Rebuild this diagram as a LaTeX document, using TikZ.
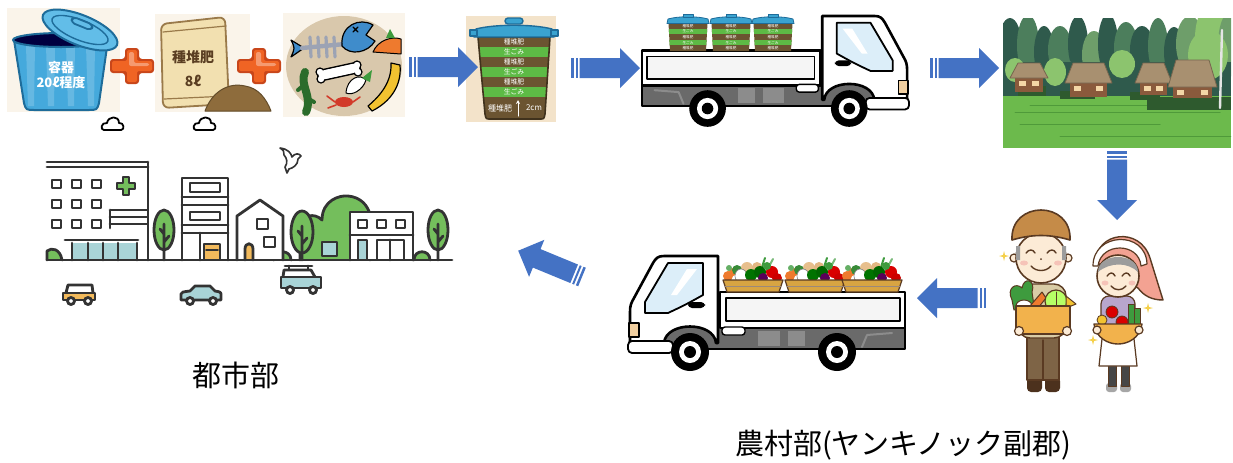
\documentclass[tikz,border=0pt]{standalone}
\usepackage{fontspec}
\newfontfamily\jp{Noto Sans CJK JP}
\usetikzlibrary{calc,arrows.meta}

\definecolor{arrowblue}{HTML}{4472C4}
\definecolor{plusorange}{HTML}{F06424}
\definecolor{plusdark}{HTML}{C8461A}
\definecolor{bucketblue}{HTML}{45A9DC}
\definecolor{bucketdark}{HTML}{1E6C9A}
\definecolor{lidblue}{HTML}{62BDE8}
\definecolor{paper}{HTML}{FAF4EA}
\definecolor{bagbeige}{HTML}{F2E0B0}
\definecolor{bagline}{HTML}{9A7A4A}
\definecolor{bagtext}{HTML}{5A3E22}
\definecolor{soil}{HTML}{8E6C3C}
\definecolor{garbbeige}{HTML}{D9C8AC}
\definecolor{fishblue}{HTML}{3F8CCB}
\definecolor{bonegray}{HTML}{9CA3B4}
\definecolor{carrot}{HTML}{EE7A2E}
\definecolor{leafgreen}{HTML}{3E9B3E}
\definecolor{banana}{HTML}{F2C230}
\definecolor{crabred}{HTML}{D23A2A}
\definecolor{layerbrown}{HTML}{6B5431}
\definecolor{layergreen}{HTML}{5DBA45}
\definecolor{potbg}{HTML}{F3E3CA}
\definecolor{lidteal}{HTML}{3AA3D0}
\definecolor{chassis}{HTML}{6A6A6A}
\definecolor{panel}{HTML}{8C8C8C}
\definecolor{glass}{HTML}{DCEEF9}
\definecolor{lamp}{HTML}{F1CFA0}
\definecolor{basket}{HTML}{D8A442}
\definecolor{cityline}{HTML}{333333}
\definecolor{citygreen}{HTML}{74BE5C}
\definecolor{cityglass}{HTML}{A9D4D7}
\definecolor{cityorange}{HTML}{F2BA5C}
\definecolor{field}{HTML}{6CBA4C}
\definecolor{fielddark}{HTML}{4F9A3A}
\definecolor{forestA}{HTML}{2F5A4C}
\definecolor{forestB}{HTML}{4C7E5C}
\definecolor{forestC}{HTML}{6E9E6A}
\definecolor{forestD}{HTML}{8CC46E}
\definecolor{hedge}{HTML}{2E5A2E}
\definecolor{thatch}{HTML}{A89070}
\definecolor{wallwood}{HTML}{8A5A3C}
\definecolor{lightwin}{HTML}{F3D6A6}
\definecolor{skin}{HTML}{FCEBD6}
\definecolor{capbrown}{HTML}{C58B48}
\definecolor{figline}{HTML}{5A3A22}
\definecolor{trouser}{HTML}{7E6446}
\definecolor{shirt}{HTML}{D9CCA6}
\definecolor{boxorange}{HTML}{F2B24C}
\definecolor{kerchief}{HTML}{F3A292}
\definecolor{hair}{HTML}{9C9C9C}
\definecolor{blouse}{HTML}{B8A6CC}
\definecolor{cheek}{HTML}{F6C3B8}
\definecolor{sparkle}{HTML}{F5D04A}

\tikzset{
  cityl/.style={draw=cityline, line width=1.4pt},
  lbl/.style={font=\jp\fontsize{14.5}{16}\selectfont, text=black, inner sep=0pt},
  bandtxt/.style={font=\jp\fontsize{3.4}{3.8}\selectfont, text=white, inner sep=0pt},
  % striped block arrow, tail at the origin, pointing along +x
  pics/stripearrow/.style={code={
    \fill[arrowblue] (0,-10) rectangle (2.5,10);
    \fill[arrowblue] (4.5,-10) rectangle (6.5,10);
    \fill[arrowblue] (8.5,-10) -- (49,-10) -- (49,-20) -- (69,0) -- (49,20) -- (49,10) -- (8.5,10) -- cycle;
  }},
  pics/plussign/.style={code={
    \fill[plusdark, rounded corners=1.5pt] (-7,-18) -- (7,-18) -- (7,-7) -- (22,-7) -- (22,7) -- (7,7) -- (7,18) -- (-7,18) -- (-7,7) -- (-22,7) -- (-22,-7) -- (-7,-7) -- cycle;
    \fill[plusorange, rounded corners=1pt] (-5,-16) -- (5,-16) -- (5,-5) -- (20,-5) -- (20,5) -- (5,5) -- (5,16) -- (-5,16) -- (-5,5) -- (-20,5) -- (-20,-5) -- (-5,-5) -- cycle;
    \fill[white, opacity=0.35, rounded corners=1pt] (-3,-14) -- (2,-14) -- (2,-3) -- (17,-3) -- (17,0) -- (-3,0) -- cycle;
  }},
  pics/cloudmark/.style={code={
    \draw[black, line width=0.9pt] (-9,5) .. controls (-13,5) and (-12,-3) .. (-6,-2) .. controls (-5,-9) and (6,-10) .. (6,-2) .. controls (11,-3) and (12,5) .. (8,5) -- cycle;
  }},
  pics/sparkmark/.style={code={
    \fill[sparkle] (0,-5) -- (1,-1) -- (5,0) -- (1,1) -- (0,5) -- (-1,1) -- (-5,0) -- (-1,-1) -- cycle;
  }},
  % small layered pot carried by the truck, bottom centre at the origin
  pics/minibucket/.style={code={
    \begin{scope}
      \clip (-18,0) -- (-19.5,-28) -- (19.5,-28) -- (18,0) -- cycle;
      \fill[layerbrown] (-21,-29) rectangle (21,1);
      \fill[layergreen] (-21,-22.4) rectangle (21,-16.8);
      \fill[layergreen] (-21,-11.2) rectangle (21,-5.6);
    \end{scope}
    \foreach \yy/\lab [count=\i] in {-25.2/種堆肥,-19.6/生ごみ,-14/種堆肥,-8.4/生ごみ,-2.8/種堆肥}
      \node[font=\jp\fontsize{1.8}{2}\selectfont, text=white, inner sep=0pt] (l\i) at (0,\yy) {\lab};
    \path[fill=lidteal, draw=bucketdark, line width=0.4pt] (-21,-27.5) -- (-20,-32) .. controls (-10,-35) and (10,-35) .. (20,-32) -- (21,-27.5) -- cycle;
    \path[fill=lidteal, draw=bucketdark, line width=0.4pt] (-5,-33.5) rectangle (5,-36.5);
  }},
  % basket of vegetables, bottom centre at the origin
  pics/vegbasket/.style={code={
    \draw[leafgreen, line width=1pt] (8,-22) -- (12,-34); \draw[leafgreen!70!white, line width=1pt] (14,-22) -- (20,-33);
    \fill[lamp!80!brown] (-6,-24) circle (6); \fill[lamp!70!brown] (4,-25) circle (5);
    \fill[carrot] (-25,-16) circle (5); \fill[carrot] (-20,-20) circle (4);
    \fill[leafgreen!90!black] (-16,-22) circle (5);
    \fill[white] (-12,-16) ellipse [x radius=6, y radius=7];
    \draw[gray, line width=0.3pt] (-12,-16) ellipse [x radius=6, y radius=7];
    \fill[green!45!black] (-2,-17) circle (6); \fill[green!40!black] (7,-20) circle (6);
    \fill[violet!70!black] (10,-14) circle (5);
    \fill[red!85!black] (19,-20) circle (6); \fill[red!80!black] (24,-14) circle (5);
    \fill[leafgreen] (14,-26) circle (4); \fill[leafgreen!80!white] (-24,-24) circle (3);
    \path[fill=basket, draw=figline, line width=0.6pt] (-30,-12) -- (30,-12) -- (26,0) -- (-26,0) -- cycle;
    \draw[figline!60, line width=0.4pt] (-28,-6) -- (28,-6);
  }},
  % light truck facing left, origin at the top left of its outline
  pics/lighttruck/.style={code={
    \path[fill=chassis, draw=black, line width=0.9pt] (30,71) rectangle (278,94);
    \fill[panel] (131,76) rectangle (153,91);
    \fill[panel] (161,76) rectangle (178,91);
    \draw[panel, line width=1pt] (235,92) -- (240,80) -- (265,78);
    \path[fill=white, draw=black, line width=1.3pt] (93,37) rectangle (278,73);
    \path[fill=black!4, draw=black, line width=0.9pt] (99,43) rectangle (273,66);
    \path[fill=white, draw=black, line width=1.3pt] (91,1) -- (37,1) .. controls (31,1) and (29,3) .. (26,8) -- (7,43) .. controls (4,48) and (3,51) .. (3,57) -- (3,88) -- (37,88) .. controls (39,66) and (87,66) .. (89,88) -- (91,88) -- cycle;
    \path[fill=glass, draw=black, line width=0.9pt] (76,8) -- (41,8) -- (18,47) -- (18,58) -- (41,58) .. controls (58,50) .. (76,40) -- cycle;
    \fill[white] (60,14) -- (70,14) -- (50,40) -- (44,40) -- cycle;
    \path[fill=black, rounded corners=2pt] (61,47) rectangle (78,53);
    \path[fill=white, draw=black, line width=0.9pt, rounded corners=2pt] (1,86) rectangle (46,98);
    \path[fill=lamp, draw=black, line width=0.6pt] (2,68) rectangle (12,82);
    \path[fill=white, draw=black, line width=0.7pt, rounded corners=1.5pt] (95,72) rectangle (118,80);
    \foreach \wx in {63,210} {
      \fill[black] (\wx,97) circle (19);
      \fill[white] (\wx,97) circle (11);
      \fill[black] (\wx,97) circle (6);
    }
  }}
}

\begin{document}
\begin{tikzpicture}[x=0.5pt, y=-0.5pt, line join=round, line cap=round]
\useasboundingbox (0,0) rectangle (1233,462);
\fill[white] (0,0) rectangle (1233,462);

% ================= container =================
\fill[paper] (7,8) rectangle (120,112);
\path[fill=bucketblue, draw=bucketdark, line width=1pt] (14,40) -- (24,103) .. controls (26,110) .. (35,110) -- (88,110) .. controls (97,110) .. (99,103) -- (108,40) -- cycle;
\foreach \sx in {26,46,66,86}
  \fill[white, opacity=0.18] (\sx,46) -- (\sx+9,46) -- (\sx+8,106) -- (\sx+2,106) -- cycle;
\path[fill=black!75!blue, draw=bucketdark, line width=1pt] (61,40) ellipse [x radius=48, y radius=7];
\path[fill=lidblue, draw=bucketdark, line width=1pt, rotate around={-22:(80,30)}] (80,30) ellipse [x radius=40, y radius=15];
\path[draw=bucketdark, line width=0.7pt, rotate around={-22:(80,30)}] (80,30) ellipse [x radius=30, y radius=10];
\path[fill=lidblue, draw=bucketdark, line width=0.9pt, rotate around={-22:(80,26)}, rounded corners=2pt] (70,20) rectangle (92,26);
\node[font=\jp\bfseries\fontsize{6.5}{7.5}\selectfont, text=white, align=center, inner sep=0pt] (bucketlabel) at (61,75) {容器\\20ℓ程度};

\pic at (132,66) {plussign};

% ================= seed compost bag =================
\fill[paper] (155,14) rectangle (250,112);
\path[fill=bagbeige, draw=bagline, line width=0.9pt, rounded corners=3pt] (161,24) -- (225,17) -- (229,104) -- (163,108) -- cycle;
\draw[bagline, line width=0.6pt] (163,32) -- (226,26);
\draw[bagline, line width=0.6pt] (164,99) -- (228,96);
\node[font=\jp\bfseries\fontsize{7}{8}\selectfont, text=bagtext, inner sep=0pt] (bagname) at (193,57) {種堆肥};
\node[font=\jp\bfseries\fontsize{7}{8}\selectfont, text=bagtext, inner sep=0pt] (bagvolume) at (193,81) {8ℓ};
\path[fill=soil, draw=soil!70!black, line width=0.5pt] (205,111) .. controls (212,92) and (228,82) .. (245,86) .. controls (258,88) and (266,98) .. (271,111) -- cycle;

\pic at (259,66) {plussign};

% ================= kitchen scraps =================
\fill[paper] (283,13) rectangle (405,117);
\fill[garbbeige] (344,66) ellipse [x radius=58, y radius=50];
\path[fill=fishblue, draw=black, line width=0.6pt] (291,40) -- (304,48) -- (291,57) .. controls (295,48) .. (291,40) -- cycle;
\draw[bonegray, line width=2.2pt] (302,48) -- (345,44);
\foreach \rx in {310,318,326,334}
  \draw[bonegray, line width=1.6pt] (\rx,37) -- (\rx+1,57);
\path[fill=fishblue, draw=black, line width=0.6pt] (342,46) .. controls (340,25) and (360,17) .. (373,25) -- (366,35) -- (375,41) .. controls (368,53) and (350,56) .. (342,46) -- cycle;
\draw[black, line width=0.6pt] (353,27) -- (358,32) (358,27) -- (353,32);
\path[fill=carrot, draw=black, line width=0.5pt] (373,52) .. controls (378,40) and (392,36) .. (401,39) -- (401,54) -- cycle;
\fill[leafgreen] (386,38) -- (390,29) -- (395,38) -- cycle;
\draw[black, line width=6pt] (323,75) -- (355,68);
\draw[white, line width=4.4pt] (323,75) -- (355,68);
\path[fill=white, draw=black, line width=0.6pt] (320,72) circle (4) (321,79) circle (4) (357,65) circle (4) (358,72) circle (4);
\draw[white, line width=4.4pt] (323,75) -- (355,68);
\draw[leafgreen!70!black, line width=4pt] (305,72) .. controls (299,85) and (313,96) .. (306,112);
\draw[leafgreen!70!black, line width=2pt] (305,84) -- (298,90) (307,98) -- (314,102);
\path[fill=white, draw=black, line width=0.5pt] (346,93) .. controls (347,78) and (360,73) .. (366,80) .. controls (363,90) and (352,96) .. (346,93) -- cycle;
\fill[leafgreen] (362,78) -- (372,70) -- (370,82) -- cycle;
\path[fill=banana, draw=black, line width=0.6pt] (368,106) .. controls (380,96) and (392,82) .. (391,63) -- (400,65) .. controls (402,86) and (390,102) .. (372,111) -- cycle;
\fill[crabred] (344,102) ellipse [x radius=9, y radius=5];
\draw[crabred, line width=0.8pt] (335,102) -- (327,96) (336,105) -- (328,108) (353,102) -- (360,97);

\pic at (113,125) {cloudmark};
\pic at (205,125) {cloudmark};

% ================= layered pot =================
\fill[potbg] (466,16) rectangle (556,122);
\begin{scope}
  \clip (478,37) -- (550,37) -- (545,114) .. controls (544,119) .. (540,119) -- (490,119) .. controls (486,119) .. (485,114) -- cycle;
  \fill[layerbrown] (470,35) rectangle (560,122);
  \fill[layergreen] (470,47) rectangle (560,57);
  \fill[layergreen] (470,67) rectangle (560,77);
  \fill[layergreen] (470,87) rectangle (560,97);
\end{scope}
\draw[layerbrown!60!black, line width=0.8pt] (478,37) -- (550,37) -- (545,114) .. controls (544,119) .. (540,119) -- (490,119) .. controls (486,119) .. (485,114) -- cycle;
\path[fill=lidteal, draw=bucketdark, line width=0.7pt] (474,37) -- (476,29) .. controls (495,24) and (533,24) .. (552,29) -- (554,37) -- cycle;
\path[fill=lidteal, draw=bucketdark, line width=0.7pt, rounded corners=1.5pt] (505,24) rectangle (523,18);
\path[fill=lidteal, draw=bucketdark, line width=0.6pt] (470,30) rectangle (477,36);
\path[fill=lidteal, draw=bucketdark, line width=0.6pt] (551,30) rectangle (558,36);
\node[bandtxt] (band1) at (514,42) {種堆肥};
\node[bandtxt] (band2) at (514,52) {生ごみ};
\node[bandtxt] (band3) at (514,62) {種堆肥};
\node[bandtxt] (band4) at (514,72) {生ごみ};
\node[bandtxt] (band5) at (514,82) {種堆肥};
\node[bandtxt] (band6) at (514,92) {生ごみ};
\node[bandtxt, font=\jp\fontsize{4}{4.5}\selectfont] (band7) at (500,108) {種堆肥};
\node[bandtxt, font=\jp\fontsize{4}{4.5}\selectfont] (band7cm) at (534,108) {2cm};
\coordinate (gaugelow) at (518,116);
\coordinate (gaugehigh) at (518,100);
\draw[white, line width=0.5pt, -{Stealth[length=2pt,width=2pt]}] (gaugelow) -- (gaugehigh);

% ================= truck carrying the pots =================
\pic[xscale=-0.964, yscale=0.964] (truckA) at (910,15) {lighttruck};
\pic (potA) at (688,51) {minibucket};
\pic (potB) at (731,51) {minibucket};
\pic (potC) at (773,51) {minibucket};

% ================= village =================
\begin{scope}
  \clip (1003,18) rectangle (1231,148);
  \foreach \cx/\cy/\rx/\ry/\cc in {1010/48/12/30/forestA, 1028/45/11/30/forestB, 1044/52/10/26/forestA, 1060/50/12/24/forestB, 1078/44/10/28/forestA, 1094/55/12/24/forestC, 1108/44/10/30/forestA, 1126/48/12/26/forestB, 1142/50/12/24/forestA, 1158/46/10/28/forestB, 1174/52/10/25/forestA, 1190/44/14/28/forestC, 1212/38/17/35/forestD, 1228/46/10/32/forestC}
    \fill[\cc] (\cx,\cy) ellipse [x radius=\rx, y radius=\ry];
  \fill[forestA] (1003,62) rectangle (1231,96);
  \fill[forestD] (1055,72) ellipse [x radius=11, y radius=14];
  \fill[forestD] (1122,64) ellipse [x radius=13, y radius=14];
  \fill[forestD] (1015,70) ellipse [x radius=10, y radius=12];
  \fill[forestD] (1208,55) ellipse [x radius=20, y radius=25];
  \fill[field] (1003,96) rectangle (1231,148);
  \foreach \lx/\rx/\ly in {1030/1150/105, 1015/1220/112, 1020/1160/124, 1060/1231/136}
    \draw[fielddark, line width=0.5pt] (\lx,\ly) -- (\rx,\ly);
  \fill[hedge] (1018,86) rectangle (1046,96);
  \fill[hedge] (1060,91) rectangle (1095,99);
  \fill[hedge] (1130,92) rectangle (1160,100);
  \fill[hedge] (1147,97) rectangle (1231,110);
  \foreach \rl/\rr/\rt/\rb/\bb in {1010/1048/63/78/92, 1065/1112/63/83/97, 1135/1172/63/83/95, 1168/1217/60/87/98} {
    \fill[wallwood] (\rl+5,\rb) rectangle (\rr-5,\bb);
    \path[fill=thatch, draw=thatch!70!black, line width=0.4pt] (\rl,\rb) -- (\rl+8,\rt) -- (\rr-8,\rt) -- (\rr,\rb) -- cycle;
    \fill[lightwin] (\rl+9,\rb+3) rectangle (\rl+16,\rb+8);
    \fill[lightwin] (\rr-16,\rb+3) rectangle (\rr-9,\rb+8);
  }
  \draw[white!80!gray, line width=1.2pt] (1222,30) -- (1220,108);
\end{scope}

% ================= farmers =================
% man
\path[fill=figline!85!black, rounded corners=2pt] (1027,377) rectangle (1042,392);
\path[fill=figline!85!black, rounded corners=2pt] (1045,377) rectangle (1060,392);
\path[fill=trouser, draw=figline, line width=0.7pt] (1027,333) rectangle (1059,380);
\draw[figline, line width=0.6pt] (1043,340) -- (1043,380);
\path[fill=shirt, draw=figline, line width=0.7pt, rounded corners=6pt] (1018,284) rectangle (1066,338);
\path[fill=leafgreen, draw=figline, line width=0.5pt] (1012,300) .. controls (1006,288) and (1016,282) .. (1022,288) .. controls (1024,276) and (1036,280) .. (1032,292) -- (1034,306) -- (1014,310) -- cycle;
\path[fill=white, draw=figline, line width=0.5pt] (1024,306) ellipse [x radius=8, y radius=6];
\path[fill=carrot, draw=figline, line width=0.5pt] (1030,306) -- (1042,292) -- (1046,298) -- (1038,308) -- cycle;
\path[fill=green!30!lime!60!white, draw=figline, line width=0.6pt] (1056,301) circle (11);
\draw[figline, line width=0.4pt] (1056,292) -- (1056,310);
\path[fill=banana, draw=figline, line width=0.5pt] (1066,296) -- (1076,304) -- (1066,308) -- cycle;
\path[fill=boxorange, draw=figline, line width=0.8pt] (1016,306) rectangle (1070,334);
\path[fill=skin, draw=figline, line width=0.6pt] (1019,331) circle (4.5) (1067,331) circle (4.5);
\path[fill=skin, draw=figline, line width=0.6pt] (1014,258) circle (4) (1068,258) circle (4);
\path[fill=skin, draw=figline, line width=0.8pt] (1041,258) circle (25);
\path[fill=hair] (1016,246) rectangle (1020,260) (1062,246) rectangle (1066,260);
\path[fill=capbrown, draw=figline, line width=0.8pt] (1012,240) .. controls (1010,200) and (1072,200) .. (1070,240) .. controls (1050,234) and (1032,234) .. (1012,240) -- cycle;
\draw[figline, line width=0.7pt] (1026,253) .. controls (1029,249) and (1033,249) .. (1035,253);
\draw[figline, line width=0.7pt] (1047,253) .. controls (1050,249) and (1054,249) .. (1056,253);
\draw[figline, line width=0.7pt] (1031,266) .. controls (1036,272) and (1046,272) .. (1051,266);
\fill[figline] (1041,259) circle (1);
\fill[cheek] (1024,263) ellipse [x radius=4, y radius=2.5];
\fill[cheek] (1058,263) ellipse [x radius=4, y radius=2.5];
% woman
\path[fill=kerchief, draw=figline, line width=0.7pt] (1096,262) .. controls (1096,232) and (1140,226) .. (1150,258) -- (1163,300) .. controls (1152,300) and (1144,296) .. (1138,288) -- cycle;
\path[fill=gray!70, rounded corners=1.5pt] (1106,383) rectangle (1117,392);
\path[fill=gray!70, rounded corners=1.5pt] (1120,383) rectangle (1131,392);
\path[fill=gray!55!black, draw=figline, line width=0.5pt] (1108,362) rectangle (1116,386);
\path[fill=gray!55!black, draw=figline, line width=0.5pt] (1121,362) rectangle (1129,386);
\path[fill=blouse, draw=figline, line width=0.6pt, rounded corners=4pt] (1101,296) rectangle (1135,334);
\path[fill=white, draw=figline, line width=0.6pt] (1103,330) -- (1133,330) -- (1137,366) -- (1099,366) -- cycle;
\path[fill=red!85!black, draw=figline, line width=0.4pt] (1112,312) circle (6) (1122,322) circle (6);
\path[fill=leafgreen, draw=figline, line width=0.4pt] (1128,304) rectangle (1134,324) (1134,308) rectangle (1140,324);
\path[fill=banana, draw=figline, line width=0.4pt] (1102,320) circle (5);
\path[fill=boxorange, draw=figline, line width=0.7pt] (1094,324) -- (1142,324) .. controls (1140,338) and (1128,344) .. (1118,344) .. controls (1108,344) and (1096,338) .. (1094,324) -- cycle;
\path[fill=skin, draw=figline, line width=0.6pt] (1097,330) circle (4) (1139,330) circle (4);
\path[fill=skin, draw=figline, line width=0.8pt] (1118,276) circle (21);
\path[fill=hair] (1098,272) .. controls (1098,252) and (1138,252) .. (1138,272) .. controls (1128,262) and (1110,262) .. (1098,272) -- cycle;
\path[fill=white, draw=figline, line width=0.6pt] (1093,266) .. controls (1093,232) and (1146,230) .. (1147,264) -- (1141,266) .. controls (1139,242) and (1101,242) .. (1098,266) -- cycle;
\draw[figline, line width=0.7pt] (1107,276) .. controls (1110,272) and (1113,272) .. (1115,276);
\draw[figline, line width=0.7pt] (1122,276) .. controls (1125,272) and (1128,272) .. (1130,276);
\draw[figline, line width=0.7pt] (1111,286) .. controls (1115,291) and (1122,291) .. (1126,286);
\fill[cheek] (1105,283) ellipse [x radius=3.5, y radius=2.5];
\fill[cheek] (1132,283) ellipse [x radius=3.5, y radius=2.5];
\pic at (1004,256) {sparkmark};
\pic at (1148,308) {sparkmark};
\pic at (1093,340) {sparkmark};

% ================= truck carrying vegetables =================
\pic (truckB) at (627,255) {lighttruck};
\pic (vegA) at (753,292) {vegbasket};
\pic (vegB) at (815,292) {vegbasket};
\pic (vegC) at (872,292) {vegbasket};

% ================= town =================
\begin{scope}[cityl]
  % hospital
  \draw (47,162) -- (148,162) (47,167) -- (148,167) (148,162) -- (148,260);
  \foreach \wx in {52,72,92} \foreach \wy in {180,200,220} \draw (\wx,\wy) rectangle +(9,8);
  \path[fill=citygreen, draw=cityline, line width=1.2pt] (123,177) -- (129,177) -- (129,183) -- (135,183) -- (135,189) -- (129,189) -- (129,195) -- (123,195) -- (123,189) -- (117,189) -- (117,183) -- (123,183) -- cycle;
  \draw (110,210) -- (147,210) (110,217) -- (147,217) (110,224) -- (147,224) (110,210) -- (110,228);
  \draw (65,240) -- (138,240);
  \path[fill=cityglass] (72,243) rectangle (137,260);
  \draw (72,243) -- (72,260) (88,243) -- (88,260) (103,243) -- (103,260) (118,243) -- (118,260) (137,243) -- (137,260);
  \path[fill=citygreen, draw=cityline] (47,260) -- (47,251) .. controls (52,247) and (60,249) .. (62,260);
  % trees and greenery
  \path[fill=citygreen, draw=cityline] (164,230) ellipse [x radius=10, y radius=20];
  \draw (164,224) -- (164,260) (164,242) -- (169,236) (164,234) -- (160,229);
  \path[fill=citygreen, draw=cityline] (300,260) -- (300,228) .. controls (302,215) and (314,212) .. (322,220) .. controls (322,200) and (340,195) .. (348,196) .. controls (360,197) and (368,205) .. (370,215) -- (370,260);
  \path[fill=citygreen, draw=cityline] (302,232) ellipse [x radius=11, y radius=21];
  \draw (302,226) -- (302,260) (302,244) -- (307,238) (302,236) -- (298,231);
  \path[fill=citygreen, draw=cityline] (438,230) ellipse [x radius=10, y radius=20];
  \draw (438,224) -- (438,260) (438,242) -- (443,236) (438,234) -- (434,229);
  \path[fill=citygreen, draw=cityline] (274,260) .. controls (274,249) and (291,249) .. (291,260);
  \path[fill=citygreen, draw=cityline] (414,260) .. controls (414,249) and (430,249) .. (430,260);
  % flats
  \draw (182,260) -- (182,178) -- (228,178) -- (228,260);
  \draw (190,183) rectangle (220,192) (182,197) -- (228,197) (182,205) -- (228,205);
  \draw (190,212) rectangle (220,220) (182,225) -- (228,225) (182,233) -- (228,233) (200,233) -- (200,260);
  \path[fill=cityorange, draw=cityline] (204,244) rectangle (220,260);
  \draw[line width=0.8pt] (206,250) -- (218,250);
  % house
  \path[fill=white, draw=cityline] (237,260) -- (237,216) -- (260,200) -- (283,216) -- (283,260);
  \draw (257,219) rectangle (268,229) (264,237) rectangle (275,247);
  \path[fill=cityorange, draw=cityline] (245,260) -- (245,249) .. controls (245,242) and (253,242) .. (253,249) -- (253,260);
  % garage among the trees
  \path[fill=cityglass, draw=cityline] (322,242) rectangle (337,256);
  % low building
  \path[fill=white, draw=cityline] (350,260) -- (350,212) -- (413,212) -- (413,260);
  \draw (358,220) rectangle +(9,8) (377,220) rectangle +(9,8) (396,220) rectangle +(9,8);
  \draw (350,235) -- (413,235);
  \path[fill=cityglass, draw=cityline] (358,240) rectangle (367,260);
  \draw (377,240) rectangle (404,260) (390,240) -- (390,260);
  % ground
  \draw (47,260) -- (452,260);
  % cars
  \path[fill=white, draw=cityline] (66,293) -- (68,285) -- (92,285) -- (93,293);
  \path[fill=cityorange, draw=cityline] (63,293) rectangle (95,300);
  \path[fill=white, draw=cityline] (71,301) circle (3.5) (88,301) circle (3.5);
  \path[fill=cityglass, draw=cityline] (181,300) -- (181,294) .. controls (182,292) .. (190,291) -- (195,286) -- (210,286) -- (215,291) .. controls (221,292) .. (221,296) -- (221,300) -- cycle;
  \path[fill=white, draw=cityline] (190,301) circle (3.5) (213,301) circle (3.5);
  \draw (285,266) -- (312,266) (289,266) -- (289,270) (308,266) -- (308,270);
  \path[fill=white, draw=cityline] (283,277) -- (284,270) -- (311,270) -- (315,277);
  \path[fill=cityglass, draw=cityline] (281,277) rectangle (321,288);
  \path[fill=white, draw=cityline] (290,290) circle (3.5) (313,290) circle (3.5);
\end{scope}
% dove above the town
\path[fill=white, draw=cityline, line width=0.8pt] (280,148) .. controls (288,149) and (291,153) .. (292,157) .. controls (295,153) and (299,153) .. (301,156) -- (298,159) .. controls (298,165) and (293,168) .. (289,169) -- (287,173) -- (285,167) .. controls (288,163) and (287,158) .. (284,155) .. controls (285,152) and (283,150) .. (280,148) -- cycle;

% ================= flow arrows =================
\pic (arrowA) at (409,67) {stripearrow};
\pic (arrowB) at (571,68) {stripearrow};
\pic (arrowC) at (930,68) {stripearrow};
\pic[rotate=-90] (arrowD) at (1117,151) {stripearrow};
\pic[rotate=180] (arrowE) at (986,298) {stripearrow};
\pic[rotate=157.6] (arrowF) at (582,277) {stripearrow};

% ================= labels =================
\node[lbl] (citylabel) at (236,375) {都市部};
\node[lbl] (farmlabel) at (903,445) {農村部(ヤンキノック副郡)};
\end{tikzpicture}
\end{document}
